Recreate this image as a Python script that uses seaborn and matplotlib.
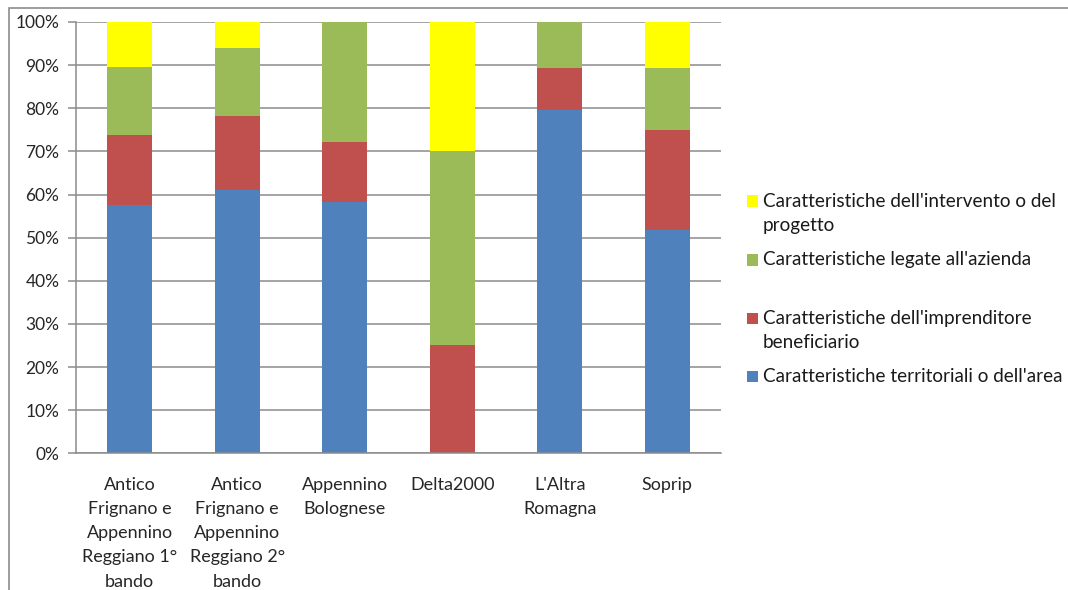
import pandas as pd
import numpy as np
import seaborn as sns
import matplotlib.pyplot as plt
from matplotlib.patches import Rectangle
from matplotlib.ticker import PercentFormatter

# areas (x categories)
aree = ["Antico\nFrignano e\nAppennino\nReggiano 1°\nbando",
        "Antico\nFrignano e\nAppennino\nReggiano 2°\nbando",
        "Appennino\nBolognese",
        "Delta2000",
        "L'Altra\nRomagna",
        "Soprip"]

# share of each criterion type per area (percent)
territoriali = [57.6, 61.0, 58.3, 0.0, 79.7, 51.8]
imprenditore = [16.2, 17.2, 13.9, 25.0, 9.6, 23.2]
azienda = [15.8, 15.8, 27.8, 45.0, 10.7, 14.3]
intervento = [10.4, 6.0, 0.0, 30.0, 0.0, 10.7]

serie = ["Caratteristiche dell'intervento o del\nprogetto",
         "Caratteristiche legate all'azienda",
         "Caratteristiche dell'imprenditore\nbeneficiario",
         "Caratteristiche territoriali o dell'area"]
colori = ["#FFFF00", "#9BBB59", "#C0504D", "#4F81BD"]

valori = [intervento, azienda, imprenditore, territoriali]
rows = []
for s, vals in zip(serie, valori):
    for a, v in zip(aree, vals):
        rows.append({"area": a, "serie": s, "quota": v / 100})
df = pd.DataFrame(rows)

sns.set_style("white")
plt.rcParams['font.family'] = ['Lato', 'DejaVu Sans']

W, H = 1068, 590
fig = plt.figure(figsize=(W / 100, H / 100), dpi=100)
ax = fig.add_axes([76 / W, 1 - 453.3 / H, 645 / W, 431.3 / H])

# outer chart frame (Excel chart area border)
fig.patches.append(Rectangle((9 / W, -0.1), 1.2, 1 - 8 / H + 0.1,
                             transform=fig.transFigure, fill=False,
                             edgecolor="#8c8c8c", linewidth=1.2))

sns.histplot(data=df, x="area", weights="quota", hue="serie",
             hue_order=serie, palette=colori, multiple="stack",
             discrete=True, shrink=0.416, linewidth=0, alpha=1,
             legend=False, ax=ax)

ax.set_ylim(0, 1)
ax.set_xlim(-0.5, 5.5)
ax.yaxis.set_major_formatter(PercentFormatter(1.0, decimals=0))
ax.set_yticks(np.arange(0, 1.01, 0.1))
ax.set_axisbelow(True)
ax.grid(axis="y", color="#8c8c8c", linewidth=1.1)
ax.grid(axis="x", visible=False)
ax.set_xlabel("")
ax.set_ylabel("")
for s in ["top", "right"]:
    ax.spines[s].set_visible(False)
for s in ["left", "bottom"]:
    ax.spines[s].set_color("#8c8c8c")
    ax.spines[s].set_linewidth(1.1)

ax.set_xticks(range(len(aree)))
ax.set_xticklabels(aree, fontsize=13, linespacing=1.63, va="top")
ax.tick_params(axis="x", length=0, pad=17)
ax.set_xticks(np.arange(-0.5, 5.6, 1), minor=True)
ax.tick_params(axis="x", which="minor", length=6, color="#8c8c8c", width=1.1, direction="out")
ax.tick_params(axis="y", length=6, color="#8c8c8c", width=1.1, direction="out",
               labelsize=12.5, pad=6, left=True)

# legend, laid out like Excel: square beside the first line of each label
leg_y = [201, 260, 318, 376]   # first-line centres, pixels from top
line_step = 24
for s, c, y in zip(serie, colori, leg_y):
    fig.patches.append(Rectangle((747 / W, 1 - (y + 5.5) / H), 11 / W, 11 / H,
                                 transform=fig.transFigure, facecolor=c,
                                 edgecolor="none"))
    for i, riga in enumerate(s.split("\n")):
        fig.text(763 / W, 1 - (y + i * line_step) / H, riga, fontsize=13.6,
                 va="center", ha="left", color="#1a1a1a")

fig.savefig("out.png", dpi=100)
